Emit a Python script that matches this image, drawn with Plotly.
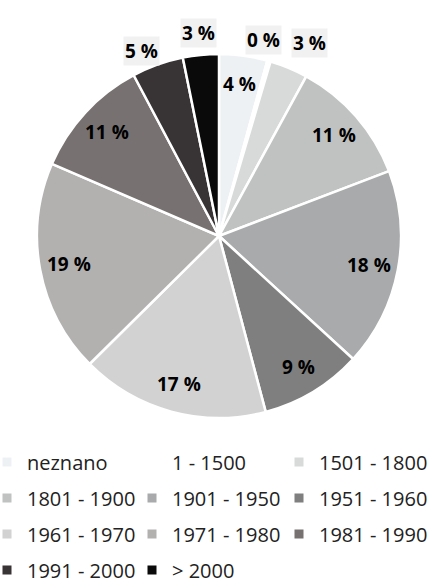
import math
import plotly.graph_objects as go

labels = ["neznano", "1 - 1500", "1501 - 1800", "1801 - 1900", "1901 - 1950", "1951 - 1960",
          "1961 - 1970", "1971 - 1980", "1981 - 1990", "1991 - 2000", "> 2000"]
values = [4.3, 0.3, 3.4, 11.3, 17.7, 9.1, 16.8, 19.0, 10.8, 4.6, 3.2]
colors = ["#eef1f4", "#ffffff", "#d8d9d9", "#c0c2c2", "#a8aaab", "#7f7f7f",
          "#d3d2d2", "#b3b0b0", "#777271", "#383334", "#0a0a0a"]
outside = [False, True, True, False, False, False, False, False, False, True, True]

W, H = 437, 585
cx, cy, R = 219, 236, 182

fig = go.Figure()
fig.add_trace(go.Pie(
    labels=labels, values=values, sort=False, direction="clockwise", rotation=0,
    marker=dict(colors=colors, line=dict(color="white", width=2.5)),
    textinfo="none", showlegend=False, hoverinfo="label+percent",
    domain=dict(x=[(cx - R) / W, (cx + R) / W], y=[1 - (cy + R) / H, 1 - (cy - R) / H]),
))

# value labels placed at each slice's mid-angle (derived from the data)
total = sum(values)
cum = 0.0
nudge = {1: (-12, 0), 2: (12, -5), 9: (-9, 7)}
for i, v in enumerate(values):
    mid = (cum + v / 2) / total * 2 * math.pi
    cum += v
    r = R + 22 if outside[i] else 0.84 * R
    dx, dy = nudge.get(i, (0, 0))
    px = cx + r * math.sin(mid) + dx
    py = cy - r * math.cos(mid) + dy
    fig.add_annotation(
        x=px / W, y=1 - py / H, xref="paper", yref="paper", showarrow=False,
        text=f"{v:.0f} %", xanchor="center", yanchor="middle",
        font=dict(family="Open Sans", size=19, color="black", weight="bold"),
        bgcolor="#f1f1f1" if outside[i] else None, borderpad=1,
    )

# legend: 3 columns x 4 rows, one small legend per entry
col_text_x = [28, 173, 320]
row_y = [462, 498, 534, 570]
layout_legends = {}
for i, name in enumerate(labels):
    key = "legend" if i == 0 else f"legend{i + 1}"
    row, col = divmod(i, 3)
    fig.add_trace(go.Scatter(
        x=[None], y=[None], mode="markers", name=name,
        marker=dict(symbol="square", size=9, color=colors[i]),
        legend=key, showlegend=True, hoverinfo="skip",
    ))
    layout_legends[key] = dict(
        orientation="h", xanchor="left", yanchor="middle",
        x=(col_text_x[col] - 41) / W, y=1 - row_y[row] / H,
        font=dict(family="Open Sans", size=20, color="#222222"),
        bgcolor="rgba(0,0,0,0)", borderwidth=0, itemclick=False,
    )

fig.update_layout(
    width=W, height=H, margin=dict(l=0, r=0, t=0, b=0, autoexpand=False),
    paper_bgcolor="white", plot_bgcolor="white",
    xaxis=dict(visible=False), yaxis=dict(visible=False),
    **layout_legends,
)
fig.write_html("out.html")
